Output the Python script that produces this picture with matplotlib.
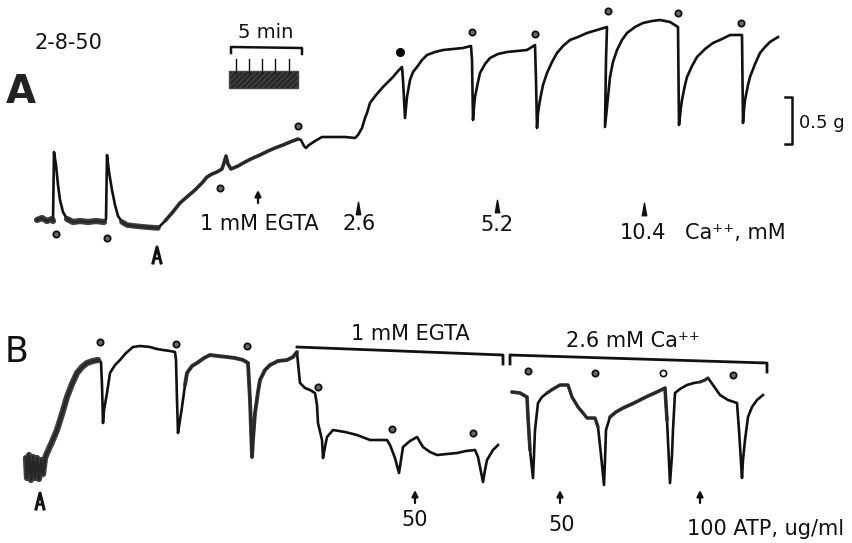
import numpy as np
import matplotlib
matplotlib.use("Agg")
from matplotlib import pyplot as plt
from matplotlib.path import Path
from matplotlib.patches import Rectangle

plt.rcParams['font.family'] = ['DejaVu Sans']

# panel A trace (time, tension) in figure units, y grows downward
a_x = [37, 42, 47, 52, 53, 54, 56, 58, 60, 63, 67, 73, 80, 88, 96, 104, 106, 107, 109, 112,
       115, 118, 122, 127, 135, 145, 158, 165, 172, 180, 188, 195, 202, 207, 212, 217, 222, 224,
       226, 228, 231, 238, 245, 253, 260, 268, 275, 283, 290, 298, 301, 304, 306, 309, 315, 322,
       332, 345, 355, 358, 362, 365, 367, 370, 376, 383, 388, 393, 398, 402, 403, 404, 405, 406,
       407, 410, 413, 417, 422, 427, 435, 443, 453, 463, 471, 472, 473, 474, 475, 478, 480, 485,
       490, 498, 507, 517, 527, 535, 536, 537, 538, 540, 543, 547, 552, 557, 563, 570, 578, 587,
       597, 607, 606, 605, 607, 610, 613, 617, 622, 627, 635, 643, 652, 660, 670, 678, 679, 681,
       682, 685, 687, 692, 697, 705, 713, 722, 730, 742, 743, 744, 745, 748, 750, 755, 760, 765,
       770, 778]
a_y = [220, 218, 221, 219, 221, 152, 165, 185, 200, 212, 219, 222, 221, 222, 221, 222, 219, 155,
       172, 190, 205, 216, 222, 225, 226, 227, 228, 221, 213, 203, 196, 190, 183, 177, 174, 172,
       169, 163, 156, 164, 169, 166, 162, 158, 155, 151, 148, 145, 142, 139, 140, 146, 148, 145,
       141, 137, 137, 137, 138, 135, 128, 118, 113, 103, 95, 87, 82, 77, 71, 67, 80, 100, 118,
       108, 97, 80, 72, 67, 60, 55, 52, 50, 49, 48, 46, 60, 120, 107, 97, 82, 73, 64, 58, 54, 52,
       51, 50, 45, 80, 128, 113, 100, 85, 73, 62, 53, 46, 40, 37, 33, 30, 27, 60, 127, 107, 77,
       62, 50, 40, 33, 27, 23, 21, 20, 22, 27, 125, 107, 100, 85, 77, 66, 57, 49, 43, 39, 35, 35,
       123, 110, 100, 85, 77, 64, 53, 47, 42, 37]

# panel B traces
b1_x = [26, 27, 29, 31, 33, 35, 37, 39, 41, 43, 45, 47, 52, 57, 62, 67, 72, 77, 82, 87, 93, 98,
        101, 102, 103, 104, 107, 110, 115, 120, 126, 133, 140, 150, 157, 163, 170, 175, 176, 177,
        178, 180, 182, 185, 187, 192, 197, 204, 210, 218, 227, 235, 243, 248, 250, 252, 253, 255,
        258, 260, 265, 270, 278, 287, 293, 297, 298, 300, 305, 310, 315, 317, 318, 322, 323, 325,
        327, 333, 345, 357, 370, 387, 390, 395, 399, 401, 403, 410, 417, 420, 423, 430, 437, 447,
        457, 466, 475, 478, 481, 483, 485, 487, 490, 493, 498]
b1_y = [458, 478, 455, 480, 457, 478, 458, 479, 460, 474, 458, 453, 442, 430, 414, 397, 384, 373,
        367, 363, 361, 360, 362, 385, 423, 410, 393, 373, 365, 360, 353, 347, 346, 347, 349, 350,
        351, 352, 360, 400, 433, 420, 407, 385, 373, 366, 363, 358, 355, 356, 357, 358, 360, 363,
        400, 457, 440, 413, 392, 380, 370, 365, 361, 360, 357, 352, 363, 383, 388, 390, 393, 405,
        423, 440, 458, 447, 437, 430, 432, 435, 440, 440, 445, 458, 473, 460, 447, 441, 437, 442,
        447, 452, 455, 454, 453, 451, 450, 457, 472, 482, 470, 460, 455, 450, 445]
b2_x = [512, 520, 527, 528, 530, 533, 534, 535, 538, 542, 547, 553, 560, 568, 572, 578, 583, 587,
        595, 598, 601, 604, 605, 606, 610, 616, 623, 632, 640, 648, 657, 665, 667, 670, 672, 673,
        675, 680, 687, 694, 700, 705, 708, 713, 720, 728, 737, 739, 742, 743, 745, 748, 752, 757,
        763]
b2_y = [392, 393, 397, 417, 450, 478, 455, 430, 403, 397, 393, 389, 385, 385, 397, 407, 413, 418,
        418, 427, 455, 485, 460, 430, 417, 412, 408, 404, 400, 396, 392, 388, 420, 483, 455, 430,
        393, 389, 385, 383, 382, 380, 378, 385, 395, 400, 403, 430, 478, 460, 440, 417, 407, 400,
        395]

# stimulus dots
dot_a_x = [56, 107, 220, 298, 400, 472, 535, 608, 678, 741]
dot_a_y = [234, 238, 188, 126, 52, 32, 34, 11, 13, 23]
dot_b_x = [100, 176, 247, 318, 392, 473, 528, 595, 663, 733]
dot_b_y = [342, 344, 346, 387, 429, 433, 371, 373, 373, 375]
dot_open = [False, False, False, False, False, False, False, False, False, False,
            False, False, False, False, False, False, False, False, True, False]

# additions (arrow x, arrow tip y, label)
add_a = [(358, 203, '2.6'), (497, 201, '5.2'), (644, 204, '10.4')]
up_arrows = [(258, 190), (415, 490), (560, 490), (700, 490)]
start_marks = [(157, 247), (40, 493)]

# noisy (thick) stretches of the recording, per trace
noisy_a = [(37, 53, 4.5), (64, 105, 4.5), (122, 160, 4.0), (160, 300, 2.6)]
noisy_b1 = [(26, 100, 4.5), (185, 297, 2.8)]
noisy_b2 = [(505, 530, 2.6), (545, 600, 2.4), (610, 668, 2.6), (700, 712, 2.2)]

ink = '#111111'

fig = plt.figure(figsize=(8.53, 5.43), dpi=100)
ax = fig.add_axes([0, 0, 1, 1])
ax.set_xlim(0, 853)
ax.set_ylim(543, 0)
ax.axis('off')


def draw_trace(xs, ys, noisy):
    xs = np.array(xs, dtype=float)
    ys = np.array(ys, dtype=float)
    ax.plot(xs, ys, color=ink, lw=1.9, solid_joinstyle='round')
    for x0, x1, lw in noisy:
        m = (xs >= x0) & (xs <= x1)
        if m.sum() > 1:
            ax.plot(xs[m], ys[m], color='#2a2a2a', lw=lw, alpha=0.9,
                    solid_capstyle='round')


draw_trace(a_x, a_y, noisy_a)
draw_trace(b1_x, b1_y, noisy_b1)
draw_trace(b2_x, b2_y, noisy_b2)

# dots
dx = dot_a_x + dot_b_x
dy = dot_a_y + dot_b_y
for i in range(len(dx)):
    if i == 4:
        ax.plot(dx[i], dy[i], 'o', ms=5.5, color='black')
    elif dot_open[i]:
        ax.plot(dx[i], dy[i], 'o', ms=4.5, mfc='white', mec=ink, mew=1.2)
    else:
        ax.plot(dx[i], dy[i], 'o', ms=4.5, mfc='#6a6a6a', mec=ink, mew=1.3)

# tall thin triangle marker for additions
tri = Path([(-0.35, -1), (0, 1), (0.35, -1), (-0.35, -1)],
           [Path.MOVETO, Path.LINETO, Path.LINETO, Path.CLOSEPOLY])
for x, y, lab in add_a:
    ax.plot(x, y + 5, marker=tri, ms=9, color=ink)
ax.text(343, 224, '2.6', fontsize=15, ha='left', va='center', color=ink)
ax.text(480, 225, '5.2', fontsize=15, ha='left', va='center', color=ink)
ax.text(620, 233, '10.4', fontsize=15, ha='left', va='center', color=ink)
ax.text(685, 233, 'Ca\u207a\u207a, mM', fontsize=15, ha='left', va='center', color=ink)

for x, y in start_marks:
    ax.plot([x - 4, x, x + 4], [y + 16, y, y + 16], color=ink, lw=2.2)
    ax.plot([x - 2, x + 2], [y + 11, y + 11], color=ink, lw=1.8)

for x, y in up_arrows:
    ax.annotate('', xy=(x, y), xytext=(x, y + 13),
                arrowprops=dict(arrowstyle='-|>', color=ink, lw=1.6,
                                mutation_scale=9, shrinkA=0, shrinkB=0))

# panel labels and texts
ax.text(35, 43, '2-8-50', fontsize=15, ha='left', va='center', color=ink)
ax.text(6, 92, 'A', fontsize=28, fontweight='bold', ha='left', va='center', color='#222222')
ax.text(5, 352, 'B', fontsize=25, ha='left', va='center', color=ink)
ax.text(200, 224, '1 mM EGTA', fontsize=15, ha='left', va='center', color=ink)

# 5 min time scale
ax.text(266, 32, '5 min', fontsize=14, ha='center', va='center', color=ink)
ax.plot([231, 231, 302, 302], [53, 47, 48, 54], color=ink, lw=1.8)
ax.add_patch(Rectangle((229, 71), 69, 17, facecolor='#262626', edgecolor='#444444',
                       lw=1, hatch='//////'))
for tx in [236, 249, 262, 275, 289]:
    ax.plot([tx, tx], [59, 73], color=ink, lw=1.0)

# 0.5 g tension scale
ax.plot([785, 792, 792, 785], [97, 97, 144, 144], color=ink, lw=1.8)
ax.text(799, 123, '0.5 g', fontsize=13, ha='left', va='center', color=ink)

# panel B brackets
ax.plot([297, 503, 503], [347, 355, 364], color=ink, lw=2.0)
ax.plot([510, 510, 767, 767], [364, 355, 363, 372], color=ink, lw=2.0)
ax.text(410, 334, '1 mM EGTA', fontsize=15, ha='center', va='center', color=ink)
ax.text(633, 341, '2.6 mM Ca\u207a\u207a', fontsize=15, ha='center', va='center', color=ink)

ax.text(415, 520, '50', fontsize=15, ha='center', va='center', color=ink)
ax.text(562, 525, '50', fontsize=15, ha='center', va='center', color=ink)
ax.text(687, 529, '100 ATP, ug/ml', fontsize=15, ha='left', va='center', color=ink)

fig.savefig('out.png', dpi=100, facecolor='white')
